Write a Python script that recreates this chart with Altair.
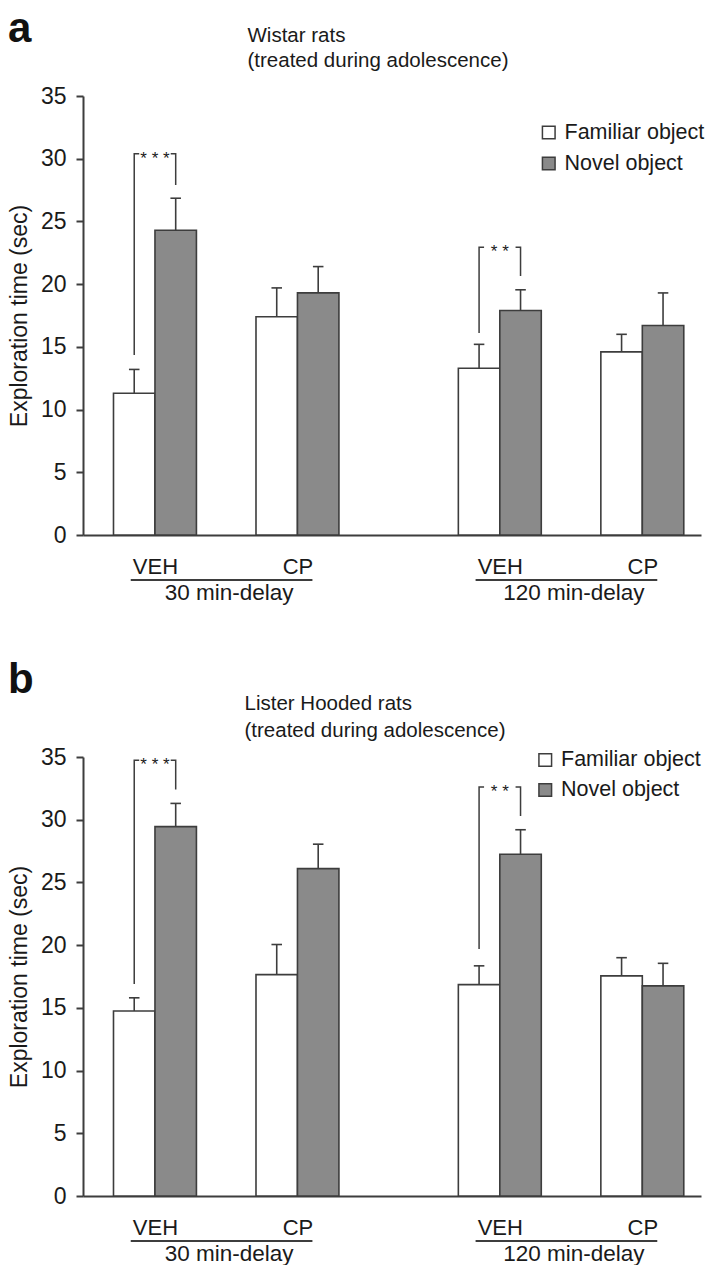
import altair as alt
import pandas as pd

# ---------------- data ----------------
drugs = ["VEH", "CP", "VEH", "CP"]
delays = ["30 min-delay", "30 min-delay", "120 min-delay", "120 min-delay"]
objects = ["Familiar object", "Novel object"]

# panel a: Wistar rats
wistar_familiar = [11.3, 17.4, 13.3, 14.6]
wistar_familiar_sem = [1.9, 2.3, 1.9, 1.4]
wistar_novel = [24.3, 19.3, 17.9, 16.7]
wistar_novel_sem = [2.55, 2.1, 1.65, 2.6]

# panel b: Lister Hooded rats
lister_familiar = [14.75, 17.65, 16.85, 17.55]
lister_familiar_sem = [1.05, 2.4, 1.5, 1.45]
lister_novel = [29.45, 26.1, 27.25, 16.75]
lister_novel_sem = [1.85, 1.95, 1.95, 1.8]

# significance brackets: group index, left leg start, bracket top, right leg end, stars
wistar_sig_group = [0, 2]
wistar_sig_start = [14.35, 16.1]
wistar_sig_top = [30.4, 22.95]
wistar_sig_end = [27.9, 20.65]
wistar_sig_label = ["* * *", "* *"]

lister_sig_group = [0, 2]
lister_sig_start = [16.9, 19.7]
lister_sig_top = [34.75, 32.6]
lister_sig_end = [32.4, 30.3]
lister_sig_label = ["* * *", "* *"]

y_ticks = [0, 5, 10, 15, 20, 25, 30, 35]

# ---------------- layout constants ----------------
FONT = "Liberation Sans"
TXT = "#1a1a1a"
LINE = "#3d3d3d"
FS = 23
DRUG_STEP = 1.0
DELAY_STEP = 2.42
BAR_W = 0.291
CAP = 0.037
STUB = 0.035
W = 618
H = 439

drug_idx = {"VEH": 0, "CP": 1}
delay_idx = {"30 min-delay": 0, "120 min-delay": 1}
pos = [drug_idx[d] * DRUG_STEP + delay_idx[t] * DELAY_STEP for d, t in zip(drugs, delays)]

xscale = alt.Scale(domain=[-0.505, -0.505 + W / 142.5], nice=False, zero=False)
yscale = alt.Scale(domain=[0, 35], nice=False, zero=True)

# label expression for x axis (VEH / CP at each group centre)
expr = "''"
for p, d in reversed(list(zip(pos, drugs))):
    expr = f"(abs(datum.value - {p}) < 0.01 ? '{d}' : {expr})"

xaxis = alt.Axis(values=pos, labelExpr=expr, ticks=False, tickSize=0, grid=False,
                 title=None, labelFontSize=22, labelFont=FONT, labelColor=TXT,
                 labelPadding=21, domainColor=LINE, domainWidth=2,
                 labelOverlap=False, labelFlush=False, labelBound=False)
yaxis = alt.Axis(values=y_ticks, tickSize=7, tickWidth=2, tickColor=LINE,
                 domainColor=LINE, domainWidth=2, grid=False,
                 labelFontSize=FS, labelFont=FONT, labelColor=TXT, labelPadding=10,
                 title="Exploration time (sec)", titleFontSize=FS, titleFont=FONT,
                 titleFontWeight="normal", titleColor=TXT, titlePadding=9)


def X(field):
    return alt.X(field, type="quantitative", scale=xscale, axis=xaxis)


def Y(field):
    return alt.Y(field, type="quantitative", scale=yscale, axis=yaxis)


def panel(letter, letter_y, title1, title2, title_x, title_y1, title_y2,
          fam, fam_sem, nov, nov_sem, sg, ss, st, se, sl, legx, legy, rowpad,
          uline_y, dtext_y):
    rows = []
    for i in range(4):
        for o, (vals, sems) in enumerate([(fam, fam_sem), (nov, nov_sem)]):
            x0 = pos[i] + (o - 1) * BAR_W
            xc = x0 + BAR_W / 2
            rows.append(dict(object=objects[o], value=vals[i], top=vals[i] + sems[i],
                             x0=x0, x1=x0 + BAR_W, xc=xc,
                             c0=xc - CAP, c1=xc + CAP))
    df = pd.DataFrame(rows)

    bars = alt.Chart(df).mark_bar(stroke=LINE, strokeWidth=1.6).encode(
        x=X("x0"),
        x2="x1:Q",
        y=Y("value"),
        y2=alt.datum(0),
        fill=alt.Fill("object:N",
                      scale=alt.Scale(domain=objects, range=["#ffffff", "#8a8a8a"]),
                      legend=alt.Legend(orient="none", legendX=legx, legendY=legy,
                                        title=None, symbolType="square", symbolSize=160,
                                        symbolStrokeColor=LINE, symbolStrokeWidth=1.5,
                                        labelFontSize=21.5, labelFont=FONT, labelColor=TXT,
                                        labelOffset=5, rowPadding=rowpad, padding=0,
                                        direction="vertical")),
    )
    err = alt.Chart(df).mark_rule(color=LINE, strokeWidth=1.6).encode(
        x=X("xc"), y=Y("value"), y2="top:Q",
    )
    caps = alt.Chart(df).mark_rule(color=LINE, strokeWidth=1.6).encode(
        x=X("c0"), x2="c1:Q", y=Y("top"),
    )

    # brackets
    brows, srows = [], []
    for k in range(len(sg)):
        c = pos[sg[k]]
        xl, xr = c - BAR_W / 2, c + BAR_W / 2
        pts_l = [(xl, ss[k]), (xl, st[k]), (xl + STUB, st[k])]
        pts_r = [(xr - STUB, st[k]), (xr, st[k]), (xr, se[k])]
        for seg, pts in (("L", pts_l), ("R", pts_r)):
            for j, (px, py) in enumerate(pts):
                brows.append(dict(seg=f"{k}{seg}", ord=j, bx=px, by=py))
        srows.append(dict(sx=c, sy=st[k], lab=sl[k]))
    bdf = pd.DataFrame(brows)
    sdf = pd.DataFrame(srows)
    brackets = alt.Chart(bdf).mark_line(color=LINE, strokeWidth=1.5).encode(
        x=X("bx"), y=Y("by"), detail="seg:N", order="ord:Q",
    )
    stars = alt.Chart(sdf).mark_text(font=FONT, fontSize=17, color=TXT,
                                     baseline="alphabetic", dy=10).encode(
        x=X("sx"), y=Y("sy"), text="lab:N",
    )

    # delay underline + labels
    drows = []
    for t in ["30 min-delay", "120 min-delay"]:
        idx = [i for i in range(4) if delays[i] == t]
        a, b = pos[idx[0]], pos[idx[1]]
        drows.append(dict(dl=t, u0=a - 0.17, u1=b + 0.105, dc=a + 0.52))
    ddf = pd.DataFrame(drows)
    uline = alt.Chart(ddf).mark_rule(color=LINE, strokeWidth=2).encode(
        x=X("u0"), x2="u1:Q", y=alt.value(H + uline_y))
    dtext = alt.Chart(ddf).mark_text(font=FONT, fontSize=22.5, color=TXT,
                                     baseline="middle").encode(
        x=X("dc"), y=alt.value(H + dtext_y), text="dl:N")

    one = pd.DataFrame({"k": [0]})
    let = alt.Chart(one).mark_text(text=letter, font=FONT, fontSize=42, fontWeight="bold",
                                   color="#111111", align="left", baseline="alphabetic").encode(
        x=alt.value(-75), y=alt.value(letter_y))
    t1 = alt.Chart(one).mark_text(text=title1, font=FONT, fontSize=20.5, color=TXT,
                                  align="left", baseline="alphabetic").encode(
        x=alt.value(title_x), y=alt.value(title_y1))
    t2 = alt.Chart(one).mark_text(text=title2, font=FONT, fontSize=20.5, color=TXT,
                                  align="left", baseline="alphabetic").encode(
        x=alt.value(title_x), y=alt.value(title_y2))

    return alt.layer(bars, err, caps, brackets, stars, uline, dtext, let, t1, t2).properties(
        width=W, height=H)


top = panel("a", -54, "Wistar rats", "(treated during adolescence)", 164.5, -54.3, -29.3,
            wistar_familiar, wistar_familiar_sem, wistar_novel, wistar_novel_sem,
            wistar_sig_group, wistar_sig_start, wistar_sig_top, wistar_sig_end, wistar_sig_label,
            455, 25.8, 8, 45, 57.5)
bottom = panel("b", -64, "Lister Hooded rats", "(treated during adolescence)", 161.5, -47, -20.3,
               lister_familiar, lister_familiar_sem, lister_novel, lister_novel_sem,
               lister_sig_group, lister_sig_start, lister_sig_top, lister_sig_end, lister_sig_label,
               451.5, -7.8, 7, 45, 57.5)

chart = alt.vconcat(top, bottom, spacing=55).resolve_legend(
    fill="independent"
).properties(
    padding={"left": 0, "top": 0, "right": 0, "bottom": 0},
).configure(font=FONT).configure_view(stroke="transparent", strokeWidth=0)

chart.save("out.html", embed_options={"renderer": "svg", "actions": False})
